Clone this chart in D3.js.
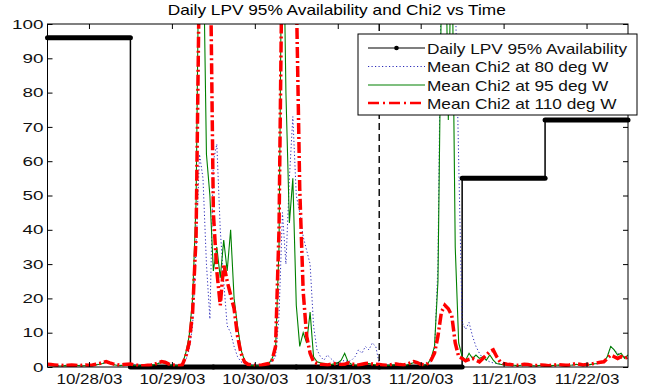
<!DOCTYPE html>
<html>
<head>
<meta charset="utf-8">
<script src="https://cdn.jsdelivr.net/npm/d3@7"></script>
<style>
  body { margin: 0; background: #fff; }
  svg { display: block; font-family: "Liberation Sans", Arial, sans-serif; }
</style>
</head>
<body>
<svg id="chart" width="652" height="390"></svg>
<script>
// day labels (ticks at noon of each day, hour index)
const dayLabels = ['10/28/03', '10/29/03', '10/30/03', '10/31/03', '11/20/03', '11/21/03', '11/22/03'];
const tickHours = [12, 36, 60, 84, 108, 132, 156];
const yTicks = [0, 10, 20, 30, 40, 50, 60, 70, 80, 90, 100];
const gapHour = 96; // data break between 10/31 and 11/20

// daily LPV 95% availability (%)
const availability = [96, 0, 0, 0, 0, 55, 72];

// mean chi2, one value per hour (0..168)
const chi80 = [
  0.6,0.5,0.5,0.4,0.4,0.5,0.4,0.5,0.6,0.5,0.4,0.5,0.6,0.5,0.7,0.9,1.1,1.3,1.0,0.8,0.6,0.5,0.6,0.7,
  0.8,0.6,0.5,0.4,0.4,0.5,0.6,0.8,1.1,1.4,1.2,0.8,0.6,0.5,0.5,0.8,
  2,5,12,35,62,55,30,14,60,65,40,25,12,10,6,3,1.5,1,
  0.8,0.6,0.5,0.5,0.6,0.8,1.0,1.8,
  3,15,45,30,55,73,50,45,38,34,30,12,5,
  3,2,3.5,2.5,1.5,1.2,1.5,2,1.5,2,3,5,4,6,5,7,6,
  1.0,0.7,0.6,0.5,0.6,0.8,0.7,0.6,0.7,1.0,1.3,1.1,0.8,0.7,1.0,1.5,
  4,30,120,140,130,120,110,60,13,11,13,9,6,4,2.5,2,1.5,1.2,1,0.9,0.8,
  0.6,0.5,0.5,0.4,0.5,0.6,0.5,0.4,0.4,0.4,0.5,0.4,0.4,0.4,0.5,0.5,0.5,0.4,0.5,0.6,0.7,0.6,0.5,0.6,0.7,0.8,0.9,1.1,
  1.4,3,6,5,4,3.5,3,2.5
];
const chi95 = [
  0.5,0.4,0.4,0.3,0.3,0.4,0.3,0.4,0.5,0.4,0.3,0.4,0.5,0.4,0.6,0.8,1.0,1.4,1.0,0.7,0.5,0.4,0.5,0.6,
  0.7,0.5,0.4,0.3,0.3,0.4,0.5,0.7,1.0,1.3,1.1,0.7,0.5,0.4,0.3,0.8,
  4,9,20,48,140,130,62,50,28,35,26,37,28,40,20,12,5,2,
  0.6,0.4,0.4,0.3,0.4,0.6,0.9,2.5,
  5,35,150,80,42,55,18,6,10,7,16,3,1.5,
  1.2,1.0,0.8,0.7,0.9,1.2,2.0,4.0,1.5,0.8,0.6,0.5,0.7,0.9,1.0,0.8,0.6,
  0.5,0.4,0.4,0.5,0.6,0.7,0.6,0.5,0.6,0.9,1.3,1.0,0.6,0.5,0.9,2.5,
  6,25,110,140,72,130,35,7,3,2,4,2.5,3.5,2.5,3,2,3.5,2,1,0.8,0.6,
  0.5,0.6,0.5,0.4,0.5,0.7,0.6,0.4,0.3,0.4,0.5,0.4,0.3,0.4,0.5,0.6,0.5,0.4,0.5,0.6,0.8,0.6,0.5,0.6,0.7,0.9,1.0,1.2,
  1.5,3,6,5,3.5,4,2.5,3.5
];
const chi110 = [
  0.8,0.7,0.6,0.5,0.5,0.4,0.5,0.6,0.5,0.4,0.5,0.6,0.5,0.6,0.8,1.0,1.3,1.6,1.2,0.9,0.7,0.6,0.7,0.8,
  0.9,0.6,0.5,0.4,0.4,0.5,0.6,0.8,1.2,1.6,1.4,0.9,0.6,0.5,0.4,0.6,
  3,7,16,38,120,160,150,130,45,28,18,30,25,21,17,9,4,1.5,
  0.8,0.6,0.5,0.5,0.6,0.8,1.0,2.0,
  6,40,130,170,160,140,110,52,22,9,4,1.5,1.0,
  0.8,0.7,0.6,0.8,1.0,0.9,0.7,0.8,1.2,0.9,0.7,0.6,0.8,1.0,1.1,0.9,0.8,
  0.7,0.6,0.5,0.6,0.8,0.9,0.7,0.6,0.8,1.2,1.6,1.3,0.8,0.6,1.0,2.0,
  4,9,16,18,17,15,7,3,2.5,1.8,2.2,2.5,2.0,1.5,2.5,3.5,4.5,5,3,1.5,1.0,
  0.8,0.7,0.6,0.5,0.6,0.8,0.7,0.5,0.4,0.5,0.6,0.5,0.4,0.5,0.6,0.7,0.6,0.5,0.6,0.8,1.0,0.8,0.6,0.7,0.9,1.0,1.2,1.4,
  1.5,2.5,3.5,3,2.5,3,2.5,3
];

const seriesNames = ['Daily LPV 95% Availability', 'Mean Chi2 at 80 deg W', 'Mean Chi2 at 95 deg W', 'Mean Chi2 at 110 deg W'];

const L = 47.5, R = 628, T = 24, B = 367;
const svg = d3.select('#chart');
const x = d3.scaleLinear().domain([0, 168]).range([L, R]);
const y = d3.scaleLinear().domain([0, 100]).range([B, T]);

// widen text horizontally like the original bitmap
function stretch(sel, k){
  sel.each(function(){
    const w = this.getComputedTextLength();
    d3.select(this).attr('textLength', w*k).attr('lengthAdjust', 'spacingAndGlyphs');
  });
}

svg.append('clipPath').attr('id', 'plotClip')
   .append('rect').attr('x', L).attr('y', T).attr('width', R-L).attr('height', B-T);

// title
svg.append('text').attr('x', (L+R)/2 - 1).attr('y', 15)
   .attr('text-anchor', 'middle').attr('font-size', 15)
   .text('Daily LPV 95% Availability and Chi2 vs Time')
   .call(stretch, 1.15);

// availability (thin step + thick daily bars from dense markers)
const stepPts = availability.map((v, i) => [i*24, v]).concat([[168, availability[availability.length-1]]]);
svg.append('path').datum(stepPts)
   .attr('d', d3.line().x(d => x(d[0])).y(d => y(d[1])).curve(d3.curveStepAfter))
   .attr('fill', 'none').attr('stroke', '#000').attr('stroke-width', 1.5);
svg.append('g').selectAll('line').data(availability).enter().append('line')
   .attr('x1', (d, i) => x(i*24)).attr('x2', (d, i) => x((i+1)*24))
   .attr('y1', d => y(d)).attr('y2', d => y(d))
   .attr('stroke', '#000').attr('stroke-width', 5).attr('stroke-linecap', 'round');

// chi2 series
const chiLine = d3.line().x((d, i) => x(i)).y(d => y(d));
const plot = svg.append('g').attr('clip-path', 'url(#plotClip)');
plot.append('path').datum(chi80).attr('d', chiLine)
    .attr('fill', 'none').attr('stroke', '#2a2ab8').attr('stroke-width', 1)
    .attr('stroke-dasharray', '1.2,2.3');
plot.append('path').datum(chi95).attr('d', chiLine)
    .attr('fill', 'none').attr('stroke', '#008000').attr('stroke-width', 1.1);
plot.append('path').datum(chi110).attr('d', chiLine)
    .attr('fill', 'none').attr('stroke', '#ff0000').attr('stroke-width', 3.5)
    .attr('stroke-dasharray', '11,3,2,3');

// break between 10/31 and 11/20
svg.append('line').attr('x1', x(gapHour)).attr('x2', x(gapHour)).attr('y1', T).attr('y2', B)
   .attr('stroke', '#000').attr('stroke-width', 1.4).attr('stroke-dasharray', '7,4');

// axes box + inward ticks
svg.append('rect').attr('x', L).attr('y', T).attr('width', R-L).attr('height', B-T)
   .attr('fill', 'none').attr('stroke', '#000').attr('stroke-width', 1);

const yAxis = svg.append('g').attr('transform', `translate(${L},0)`)
   .call(d3.axisLeft(y).tickValues(yTicks).tickSize(-5).tickPadding(4));
const xAxis = svg.append('g').attr('transform', `translate(0,${B})`)
   .call(d3.axisBottom(x).tickValues(tickHours).tickSize(-5).tickPadding(6).tickFormat((d, i) => dayLabels[i]));
svg.append('g').attr('transform', `translate(${R},0)`)
   .call(d3.axisRight(y).tickValues(yTicks).tickSize(-5).tickFormat(''));
svg.append('g').attr('transform', `translate(0,${T})`)
   .call(d3.axisTop(x).tickValues(tickHours).tickSize(-5).tickFormat(''));
svg.selectAll('.domain').remove();
svg.selectAll('.tick line').attr('stroke', '#000');

yAxis.selectAll('text').attr('font-size', 13).attr('fill', '#111')
     .attr('font-family', '"Liberation Sans", Arial, sans-serif').call(stretch, 1.45);
xAxis.selectAll('text').attr('font-size', 15).attr('fill', '#111')
     .attr('font-family', '"Liberation Sans", Arial, sans-serif').call(stretch, 1.13);

// legend
const lg = svg.append('g').attr('transform', 'translate(358,34)');
lg.append('rect').attr('width', 279).attr('height', 81)
  .attr('fill', '#fff').attr('stroke', '#000').attr('stroke-width', 1);
const rowY = [14, 32.5, 51, 69];
const legStyle = [
  {stroke: '#000', width: 1.2, dash: null},
  {stroke: '#2a2ab8', width: 1, dash: '1.2,2.3'},
  {stroke: '#008000', width: 1.1, dash: null},
  {stroke: '#ff0000', width: 2.5, dash: '11,4,2,4'}
];
const rows = lg.selectAll('g.row').data(seriesNames).enter().append('g')
   .attr('class', 'row').attr('transform', (d, i) => `translate(0,${rowY[i]})`);
rows.append('line').attr('x1', 10).attr('x2', 67).attr('y1', 0).attr('y2', 0)
    .attr('stroke', (d, i) => legStyle[i].stroke).attr('stroke-width', (d, i) => legStyle[i].width)
    .attr('stroke-dasharray', (d, i) => legStyle[i].dash);
lg.append('circle').attr('cx', 38.5).attr('cy', rowY[0]).attr('r', 2.3).attr('fill', '#000');
rows.append('text').attr('x', 69).attr('y', 5.5).attr('font-size', 15).attr('fill', '#111')
    .text(d => d).call(stretch, 1.15);
</script>
</body>
</html>
